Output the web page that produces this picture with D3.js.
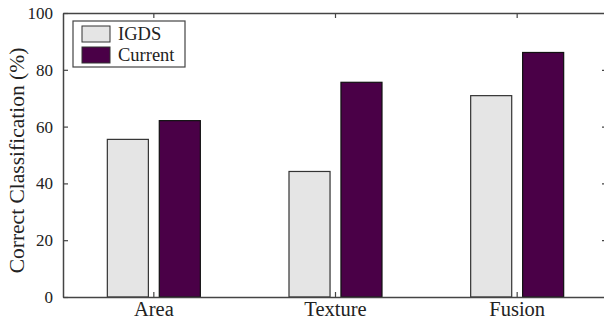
<!DOCTYPE html>
<html><head><meta charset="utf-8">
<script src="https://cdn.jsdelivr.net/npm/d3@7"></script>
<style>body{margin:0;background:#fff}svg{display:block}text{font-family:"Liberation Serif","Times New Roman",serif;fill:#222}</style>
</head><body><svg id="c" width="604" height="321"></svg>
<script>
const categories = ["Area", "Texture", "Fusion"];
const seriesNames = ["IGDS", "Current"];
const igdsValues = [55.5, 44.2, 70.9];
const currentValues = [62.1, 75.6, 86.1];
const yTicks = [0, 20, 40, 60, 80, 100];
const seriesColors = ["#e5e5e5", "#4a0047"];

const svg = d3.select("#c");
const L = 63, R = 608, T = 13, B = 297;
const x = d3.scaleBand().domain(categories).range([L, R]).padding(0);
const bw = x.bandwidth();
const xi = d3.scaleBand().domain(seriesNames).range([bw/2 - 46.5, bw/2 + 46.5]).paddingInner(0.21).paddingOuter(0);
const y = d3.scaleLinear().domain([0, 100]).range([B, T]);
const values = [igdsValues, currentValues];

// bars
seriesNames.forEach((s, si) => {
  svg.append("g").selectAll("rect").data(categories).join("rect")
    .attr("x", d => x(d) + xi(s))
    .attr("width", xi.bandwidth())
    .attr("y", (d, i) => y(values[si][i]))
    .attr("height", (d, i) => B - y(values[si][i]))
    .attr("fill", seriesColors[si])
    .attr("stroke", si === 0 ? "#333" : "#111")
    .attr("stroke-width", 1.2);
});

const axisColor = "#444";
const gl = svg.append("g").attr("transform", `translate(${L},0)`)
  .call(d3.axisLeft(y).tickValues(yTicks).tickSize(-5).tickPadding(10).tickSizeOuter(0));
const gr = svg.append("g").attr("transform", `translate(${R},0)`)
  .call(d3.axisRight(y).tickValues(yTicks).tickSize(-6).tickFormat("").tickSizeOuter(0));
const gb = svg.append("g").attr("transform", `translate(0,${B})`)
  .call(d3.axisBottom(x).tickSize(-5).tickSizeOuter(0));
const gt = svg.append("g").attr("transform", `translate(0,${T})`)
  .call(d3.axisTop(x).tickSize(-5).tickFormat("").tickSizeOuter(0));
[gl, gr, gb, gt].forEach(g => {
  g.selectAll(".domain").attr("stroke", axisColor).attr("stroke-width", 1.5);
  g.selectAll(".tick line").attr("stroke", axisColor).attr("stroke-width", 1.2);
});
gl.selectAll("text").attr("font-size", 17).attr("fill", "#222").style("font-family", "Liberation Serif");
gb.selectAll(".tick text").attr("font-size", 20.5).attr("fill", "#222").style("font-family", "Liberation Serif")
  .attr("y", 19).attr("dy", 0);

svg.append("text")
  .attr("transform", `translate(24,${(43+278)/2}) rotate(-90)`)
  .attr("text-anchor", "middle")
  .attr("font-size", 21.5)
  .text("Correct Classification (%)");

const lg = svg.append("g");
lg.append("rect").attr("x", 73).attr("y", 21).attr("width", 112).attr("height", 46)
  .attr("fill", "#fff").attr("stroke", "#444").attr("stroke-width", 1.2);
seriesNames.forEach((s, i) => {
  lg.append("rect").attr("x", 82).attr("y", 26 + i*21).attr("width", 28).attr("height", 16)
    .attr("fill", seriesColors[i]).attr("stroke", "#333").attr("stroke-width", 1);
  lg.append("text").attr("x", 118).attr("y", 40 + i*21).attr("font-size", 18.5).text(s);
});
</script></body></html>
